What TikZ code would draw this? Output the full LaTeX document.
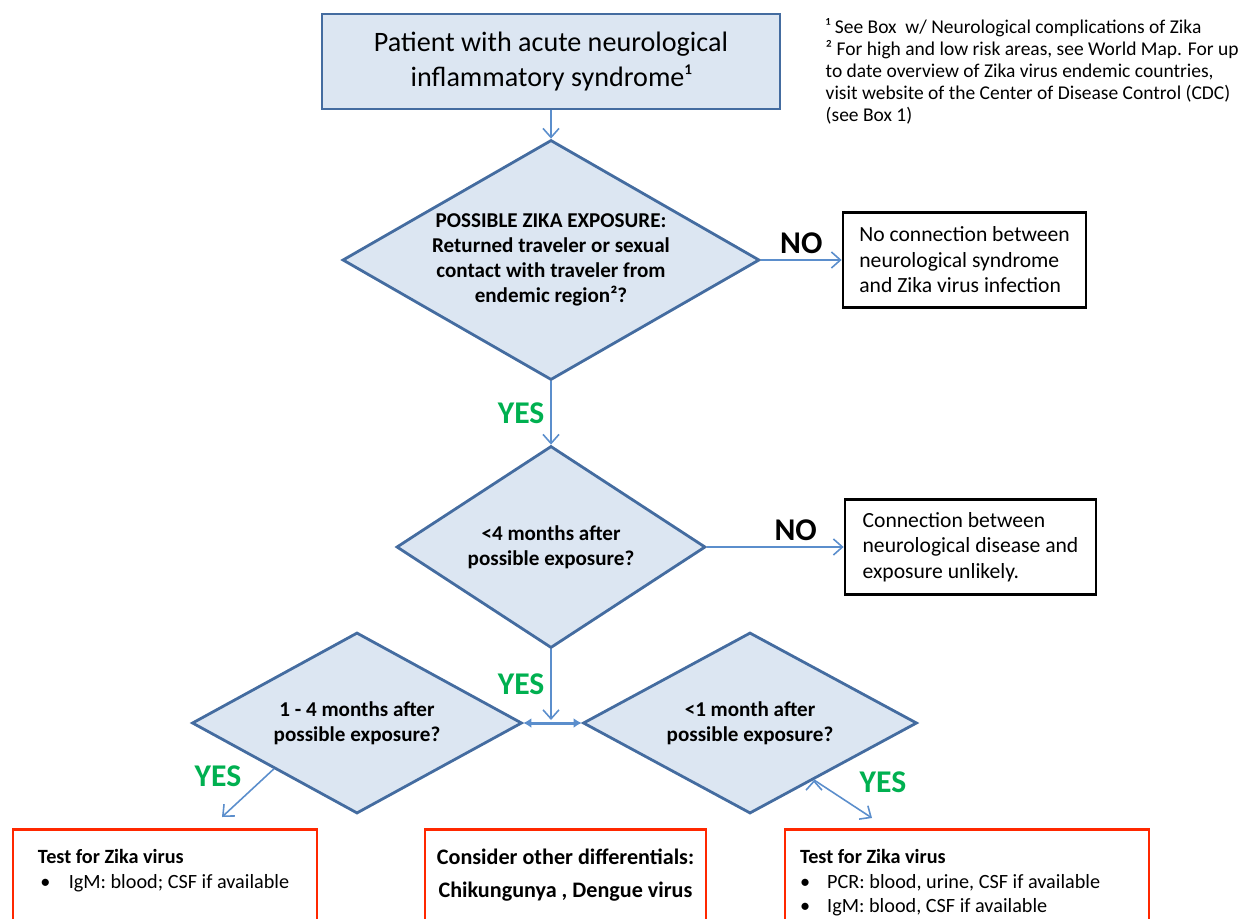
\documentclass[tikz,border=0pt]{standalone}
\usepackage{fontspec}
\setmainfont{Carlito}
\usetikzlibrary{arrows.meta,shapes,calc}
\definecolor{boxfill}{RGB}{220,230,242}
\definecolor{boxline}{RGB}{68,108,160}
\definecolor{arrline}{RGB}{91,142,204}
\definecolor{yesgreen}{RGB}{0,176,80}
\definecolor{testred}{RGB}{255,40,0}

\begin{document}
\begin{tikzpicture}[>={Straight Barb[length=1.8mm,width=3.2mm]},thick,
    main node/.style={draw=boxline,fill=boxfill,line width=1.6pt,align=center},
    q node/.style={main node,diamond,inner sep=0pt,font=\fontsize{12}{14.3}\selectfont\bfseries},
    no node/.style={draw,line width=1.6pt,align=left,minimum height=1.9cm,font=\fontsize{12.3}{14.5}\selectfont},
    test node/.style={draw=testred,line width=1.6pt,anchor=north,inner xsep=0.15cm,inner ysep=0.4cm,font=\fontsize{11.5}{14}\selectfont}]

  \useasboundingbox (0,0) rectangle (25.06,-18.36);
  \clip (0,0) rectangle (25.06,-18.36);

  \node[main node,minimum width=9.16cm,minimum height=1.9cm,font=\fontsize{16}{20}\selectfont] (1) at (11.02,-1.23) {Patient with acute neurological\\inflammatory syndrome¹};
  \node[q node,minimum width=8.34cm,minimum height=4.8cm,aspect=1.74] (2) at (11.02,-5.2) {POSSIBLE ZIKA EXPOSURE:\\Returned traveler or sexual\\contact with traveler from\\endemic region²?};
  \node[no node,minimum width=4.86cm] (3) at (19.29,-5.2) {No connection between\\neurological syndrome\\and Zika virus infection};
  \node[q node,minimum width=6.18cm,minimum height=4.04cm,aspect=1.53] (4) at (11.02,-10.94) {<4 months after\\possible exposure?};
  \node[no node,minimum width=5.02cm] (5) at (19.41,-10.94) {Connection between\\neurological disease and\\exposure unlikely.};
  \node[q node,minimum width=6.6cm,minimum height=3.62cm,aspect=1.82] (6) at (7.14,-14.46) {1 - 4 months after\\possible exposure?};
  \node[q node,minimum width=6.68cm,minimum height=3.62cm,aspect=1.85] (7) at (15.0,-14.46) {<1 month after\\possible exposure?};

  \node[test node] (8) at (3.3,-16.56) {\parbox[c][1.9cm][t]{5.78cm}{\raggedright
    \hspace*{0.35cm}\textbf{Test for Zika virus}\\
    \hspace*{0.4cm}\textbullet\hspace{0.9em}IgM: blood; CSF if available}};
  \node[test node,font=\fontsize{12.6}{14}\selectfont] (9) at (11.31,-16.56) {\parbox[c][1.9cm][t]{5.32cm}{\centering
    \textbf{Consider other differentials:}\\[0.15cm]
    \textbf{Chikungunya , Dengue virus}}};
  \node[test node] (10) at (19.34,-16.56) {\parbox[c][1.9cm][t]{6.98cm}{\raggedright
    \hspace*{0.15cm}\textbf{Test for Zika virus}\\
    \hspace*{0.15cm}\textbullet\hspace{0.85em}PCR: blood, urine, CSF if available\\
    \hspace*{0.15cm}\textbullet\hspace{0.85em}IgM: blood, CSF if available}};

  % footnotes
  \node[anchor=north west,inner sep=0pt,align=left,font=\fontsize{11.1}{12.5}\selectfont] (n) at (16.5,-0.36)
    {¹ See Box\ \ w/ Neurological complications of Zika\\
     ² For high and low risk areas, see World Map. For up\\
     to date overview of Zika virus endemic countries,\\
     visit website of the Center of Disease Control (CDC)\\
     (see Box 1)};

  \coordinate (j) at (11.02,-14.4);
  \coordinate (a) at (4.44,-16.34);
  \coordinate (b) at (17.44,-16.36);

  \path[->,draw=arrline,line width=0.9pt,every node/.style={font=\fontsize{18}{20}\selectfont\bfseries}]
    (1) edge (2)
    (2) edge node[above] {NO} (3)
    (2) edge node[left,text=yesgreen] {YES} (4)
    (4) edge node[above,pos=0.65] {NO} (5)
    (4) edge node[left,text=yesgreen] {YES} (j)
    ($(6.west)!0.5!(6.south)$) edge node[above left,text=yesgreen] {YES} (a)
    ($(7.south)!0.38!(7.east)$) edge node[above right,xshift=0.2cm,text=yesgreen] {YES} (b);

  \draw[{Latex[length=1.6mm,width=2mm]}-{Latex[length=1.6mm,width=2mm]},arrline,line width=1.7pt] (6.east) -- (7.west);
\end{tikzpicture}
\end{document}
